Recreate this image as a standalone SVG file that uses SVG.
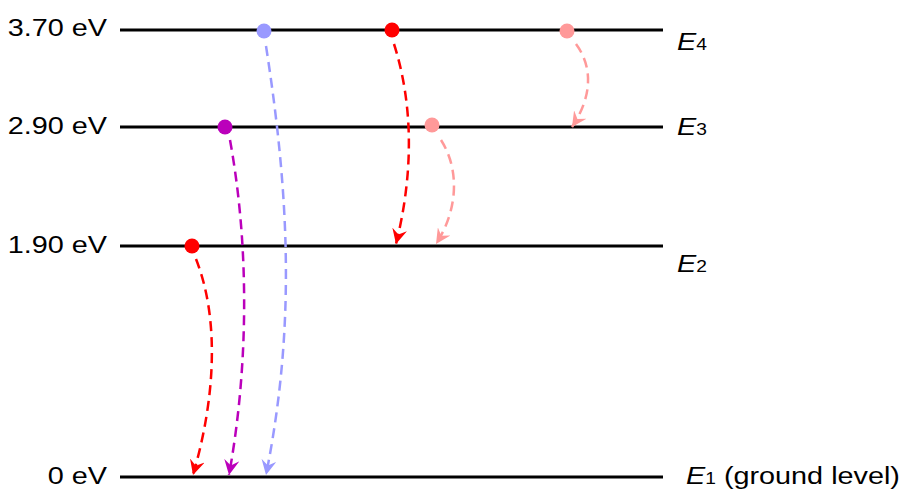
<svg xmlns="http://www.w3.org/2000/svg" width="912" height="498" viewBox="0 0 912 498">
<style>
.lvl{stroke:#000;stroke-width:3}
.lab{font-family:"Liberation Sans",Arial,sans-serif;font-size:24px;fill:#000}
.e{font-family:"Liberation Sans",Arial,sans-serif;font-size:24px;font-style:italic;fill:#000}
.sub{font-style:normal;font-size:16px}
.tr{fill:none;stroke-width:2.5;stroke-dasharray:10 6}
</style>
<defs>
<marker id="mr" viewBox="0 0 10 10" refX="10" refY="5" markerWidth="15" markerHeight="15" markerUnits="userSpaceOnUse" orient="auto"><path d="M0,0 L10,5 L0,10 L3.5,5 Z" fill="#ff0000"/></marker>
<marker id="mp" viewBox="0 0 10 10" refX="10" refY="5" markerWidth="15" markerHeight="15" markerUnits="userSpaceOnUse" orient="auto"><path d="M0,0 L10,5 L0,10 L3.5,5 Z" fill="#bb00bb"/></marker>
<marker id="mb" viewBox="0 0 10 10" refX="10" refY="5" markerWidth="15" markerHeight="15" markerUnits="userSpaceOnUse" orient="auto"><path d="M0,0 L10,5 L0,10 L3.5,5 Z" fill="#9999ff"/></marker>
<marker id="mk" viewBox="0 0 10 10" refX="10" refY="5" markerWidth="15" markerHeight="15" markerUnits="userSpaceOnUse" orient="auto"><path d="M0,0 L10,5 L0,10 L3.5,5 Z" fill="#ff9999"/></marker>
</defs>
<g id="level4"><line class="lvl" x1="120" y1="30" x2="663" y2="30"/><text class="lab" transform="translate(107,36) scale(1.2,1)" text-anchor="end">3.70 eV</text><text class="e" transform="translate(677,50) scale(1.2,1)">E<tspan class="sub">4</tspan></text></g>
<g id="level3"><line class="lvl" x1="120" y1="127" x2="663" y2="127"/><text class="lab" transform="translate(107,134) scale(1.2,1)" text-anchor="end">2.90 eV</text><text class="e" transform="translate(677,135) scale(1.2,1)">E<tspan class="sub">3</tspan></text></g>
<g id="level2"><line class="lvl" x1="120" y1="246" x2="663" y2="246"/><text class="lab" transform="translate(107,253) scale(1.2,1)" text-anchor="end">1.90 eV</text><text class="e" transform="translate(677,272) scale(1.2,1)">E<tspan class="sub">2</tspan></text></g>
<g id="level1"><line class="lvl" x1="120" y1="477" x2="663" y2="477"/><text class="lab" transform="translate(107,484) scale(1.2,1)" text-anchor="end">0 eV</text><text class="e" transform="translate(686,484) scale(1.2,1)">E<tspan class="sub">1</tspan><tspan style="font-style:normal;font-size:24px"> (ground level)</tspan></text></g>
<g id="connectors">
<path class="tr" stroke="#9999ff" marker-end="url(#mb)" d="M266,46 C290,200 295,330 266,475"/>
<path class="tr" stroke="#ff0000" marker-end="url(#mr)" d="M394,44 C415,110 412,180 396,244"/>
<path class="tr" stroke="#ff9999" marker-end="url(#mk)" d="M576,44 C595,70 590,100 572,127"/>
<path class="tr" stroke="#bb00bb" marker-end="url(#mp)" d="M230,140 C250,250 248,370 229,475"/>
<path class="tr" stroke="#ff9999" marker-end="url(#mk)" d="M441,140 C460,170 458,210 436,244"/>
<path class="tr" stroke="#ff0000" marker-end="url(#mr)" d="M196,259 C220,320 215,400 193,475"/>
</g>
<g id="dot-blue"><circle cx="264" cy="31" r="7.5" fill="#9999ff"/></g>
<g id="dot-red4"><circle cx="392" cy="30" r="7.5" fill="#ff0000"/></g>
<g id="dot-pink4"><circle cx="567" cy="31" r="7.5" fill="#ff9999"/></g>
<g id="dot-purple"><circle cx="225" cy="127" r="7.5" fill="#bb00bb"/></g>
<g id="dot-pink3"><circle cx="432" cy="125" r="7.5" fill="#ff9999"/></g>
<g id="dot-red2"><circle cx="192" cy="246" r="7.5" fill="#ff0000"/></g>
</svg>
